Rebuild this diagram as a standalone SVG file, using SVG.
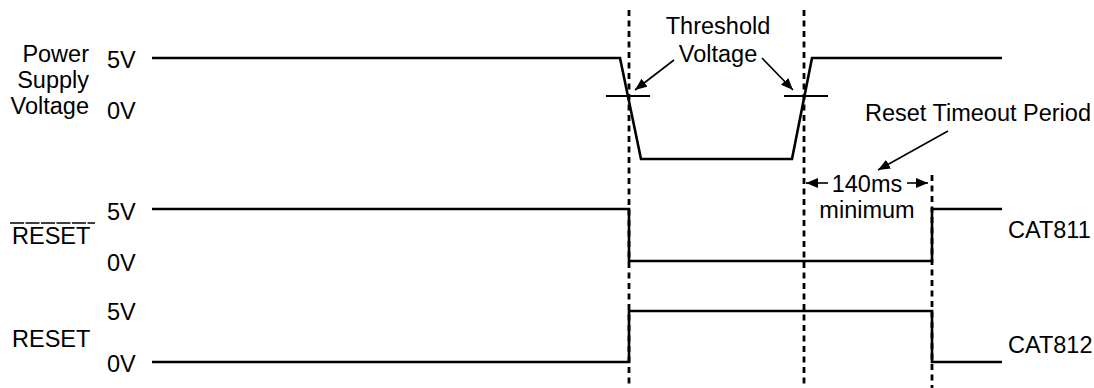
<svg xmlns="http://www.w3.org/2000/svg" width="1094" height="388" viewBox="0 0 1094 388">
<style>
text{font-family:"Liberation Sans",Arial,sans-serif;font-size:23.5px;fill:#000}
.sig{fill:none;stroke:#000;stroke-width:2.6;stroke-linejoin:miter}
.dash{fill:none;stroke:#000;stroke-width:2.8;stroke-dasharray:6 4.5}
.thin{fill:none;stroke:#000;stroke-width:2}
.ptr{fill:none;stroke:#000;stroke-width:1.6;marker-end:url(#ah)}
</style>
<defs>
<marker id="ah" viewBox="0 0 12 10" refX="12" refY="5" markerWidth="12" markerHeight="10" markerUnits="userSpaceOnUse" orient="auto">
<path d="M0,0 L12,5 L0,10 Z" fill="#000"/>
</marker>
</defs>
<rect width="1094" height="388" fill="#fff"/>
<g id="labels">
<text x="89" y="62" text-anchor="end">Power</text>
<text x="89" y="88" text-anchor="end">Supply</text>
<text x="89" y="114" text-anchor="end">Voltage</text>
<text x="107" y="68">5V</text>
<text x="107" y="119">0V</text>
<text x="12" y="244">RESET</text>
<line x1="10" y1="223" x2="95" y2="223" stroke="#000" stroke-width="1.4" stroke-dasharray="14 1.5"/>
<text x="107" y="220">5V</text>
<text x="107" y="271">0V</text>
<text x="12" y="347">RESET</text>
<text x="107" y="320">5V</text>
<text x="107" y="372">0V</text>
<text x="1008" y="238">CAT811</text>
<text x="1008" y="353">CAT812</text>
</g>
<g id="guides">
<line class="dash" x1="629" y1="10" x2="629" y2="388"/>
<line class="dash" x1="804" y1="10" x2="804" y2="388"/>
<line class="dash" x1="932" y1="175" x2="932" y2="388"/>
</g>
<g id="power-supply">
<polyline class="sig" points="152,58 620,58 641,159 792,159 812,58 1002,58"/>
<line class="thin" x1="606" y1="96" x2="650" y2="96"/>
<line class="thin" x1="784" y1="96" x2="828" y2="96"/>
</g>
<g id="reset-bar">
<polyline class="sig" points="152,209 629,209 629,261 932,261 932,209 1002,209"/>
</g>
<g id="reset">
<polyline class="sig" points="152,362 629,362 629,311 932,311 932,362 1002,362"/>
</g>
<g id="annotations">
<text x="718" y="34" text-anchor="middle">Threshold</text>
<text x="718" y="62" text-anchor="middle">Voltage</text>
<text x="978" y="121" text-anchor="middle">Reset Timeout Period</text>
<text x="867" y="192" text-anchor="middle">140ms</text>
<text x="867" y="218" text-anchor="middle">minimum</text>
</g>
<g id="connectors">
<line class="ptr" x1="674" y1="60" x2="635" y2="90"/>
<line class="ptr" x1="762" y1="58" x2="793" y2="90"/>
<line class="ptr" x1="948" y1="131" x2="878" y2="170"/>
<line class="ptr" x1="828" y1="183" x2="806" y2="183"/>
<line class="ptr" x1="907" y1="183" x2="928" y2="183"/>
</g>
</svg>
